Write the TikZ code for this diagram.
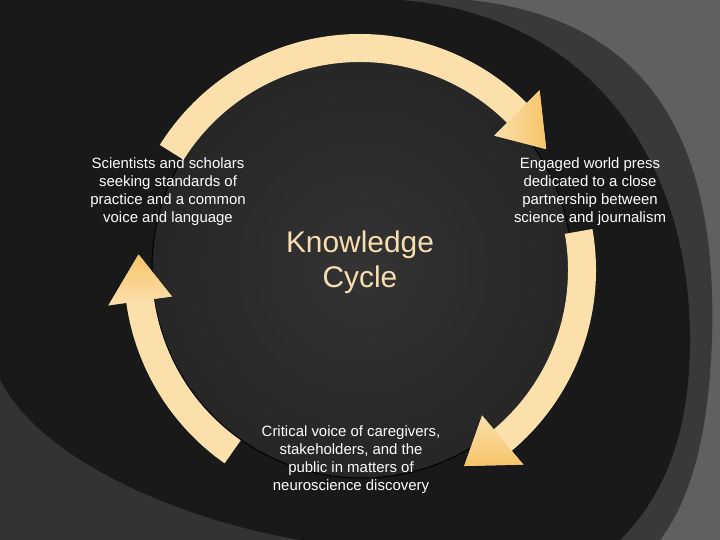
\documentclass[tikz,border=0pt]{standalone}
\usepackage{fontspec}
\setmainfont{Liberation Sans}
\definecolor{band}{HTML}{FBE0AC}
\definecolor{bandhead}{HTML}{F6C468}
\definecolor{ktext}{HTML}{F7DDB0}
\begin{document}
\begin{tikzpicture}[x=1bp,y=1bp,
  lbl/.style={text=white,align=center,font=\fontsize{15}{18}\selectfont},
  arrowband/.style={fill=band,draw=none}]
\useasboundingbox (0,0) rectangle (720,540);
% background
\fill[gray!75!black] (0,0) rectangle (720,540);
\fill[gray!45!black] (0,540) -- (470,540) .. controls (650,520) and (718,400) .. (712,200) .. controls (708,100) and (690,40) .. (660,0) -- (0,0) -- cycle;
\fill[black!90] (0,540) -- (400,540) .. controls (590,525) and (690,380) .. (690,200) .. controls (690,100) and (660,40) .. (620,0) -- (300,0) .. controls (180,20) and (40,80) .. (0,160) -- cycle;
\fill[gray!40!black] (0,160) .. controls (40,80) and (180,20) .. (300,0) -- (0,0) -- cycle;
% central circle
\shade[inner color=gray!40!black,outer color=black!85,draw=black,line width=1pt] (362,272) circle (210);
\begin{scope}[shift={(360,270)}]
% top arc
\fill[arrowband] (148:236) arc[start angle=148,end angle=45,radius=236] -- (45:254) -- (33:222) -- (45:190) -- (45:208) arc[start angle=45,end angle=148,radius=208] -- cycle;
\shade[left color=band,right color=bandhead] (45:254) -- (33:222) -- (45:190) -- cycle;
% right arc
\fill[arrowband] (10:236) arc[start angle=10,end angle=-50,radius=236] -- (-50:254) -- (-62:222) -- (-50:190) -- (-50:208) arc[start angle=-50,end angle=10,radius=208] -- cycle;
\shade[top color=band,bottom color=bandhead] (-50:254) -- (-62:222) -- (-50:190) -- cycle;
% left arc
\fill[arrowband] (235:236) arc[start angle=235,end angle=188,radius=236] -- (188:254) -- (176:222) -- (188:190) -- (188:208) arc[start angle=188,end angle=235,radius=208] -- cycle;
\shade[bottom color=band,top color=bandhead] (188:254) -- (176:222) -- (188:190) -- cycle;
\end{scope}
% texts
\node[lbl] (sci) at (168,348) {Scientists and scholars\\seeking standards of\\practice and a common\\voice and language};
\node[lbl] (press) at (590,348) {Engaged world press\\dedicated to a close\\partnership between\\science and journalism};
\node[lbl] (crit) at (351,80) {Critical voice of caregivers,\\stakeholders, and the\\public in matters of\\neuroscience discovery};
\node[text=ktext,align=center,font=\fontsize{30}{35}\selectfont] (kc) at (360,278) {Knowledge\\Cycle};
\end{tikzpicture}
\end{document}
